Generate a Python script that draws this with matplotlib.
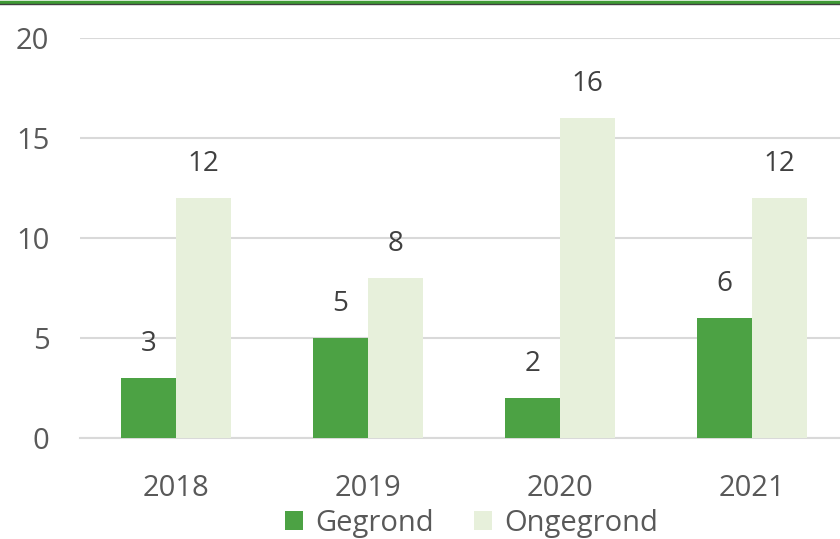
import numpy as np
import matplotlib.pyplot as plt
from matplotlib.lines import Line2D

years = ["2018", "2019", "2020", "2021"]
gegrond = [3, 5, 2, 6]
ongegrond = [12, 8, 16, 12]

dark_green = "#4ca244"
light_green = "#e7f0db"
text_grey = "#595959"

plt.rcParams['font.family'] = ['Open Sans', 'DejaVu Sans']

fig = plt.figure(figsize=(8.4, 5.39), dpi=100)
ax = fig.add_axes([0.0952, 0.1874, 0.9143, 0.742])

x = np.arange(len(years))
w = 0.286
b1 = ax.bar(x - w / 2, gegrond, w, color=dark_green, label="Gegrond", zorder=3)
b2 = ax.bar(x + w / 2, ongegrond, w, color=light_green, label="Ongegrond", zorder=3)

ax.bar_label(b1, padding=14.5, fontsize=20, color="#404040")
ax.bar_label(b2, padding=14.5, fontsize=20, color="#404040")

ax.set_xlim(-0.5, 3.5)
ax.set_ylim(0, 20)
ax.set_yticks([0, 5, 10, 15, 20])
ax.set_xticks(x)
ax.set_xticklabels(years)
ax.grid(axis="y", color="#d9d9d9", linewidth=1.5, zorder=0)
for s in ["top", "right", "left"]:
    ax.spines[s].set_visible(False)
ax.spines["bottom"].set_color("#d9d9d9")
ax.spines["bottom"].set_linewidth(1.5)
ax.tick_params(axis="both", length=0, labelsize=21, colors=text_grey)
ax.tick_params(axis="y", pad=22)
ax.tick_params(axis="x", pad=26)

fig.legend(loc="center", bbox_to_anchor=(0.561, 0.029), ncol=2, frameon=False,
           fontsize=21, labelcolor=text_grey, handlelength=0.62, handleheight=0.62,
           handletextpad=0.41, columnspacing=1.38, borderpad=0.0)

# border at the top of the image
fig.add_artist(Line2D([0, 1], [0.997, 0.997], color="#3f9a35", linewidth=2.5,
                      transform=fig.transFigure))
fig.add_artist(Line2D([0, 1], [0.993, 0.993], color="#404040", linewidth=1,
                      transform=fig.transFigure))

fig.savefig("out.png", dpi=100)
